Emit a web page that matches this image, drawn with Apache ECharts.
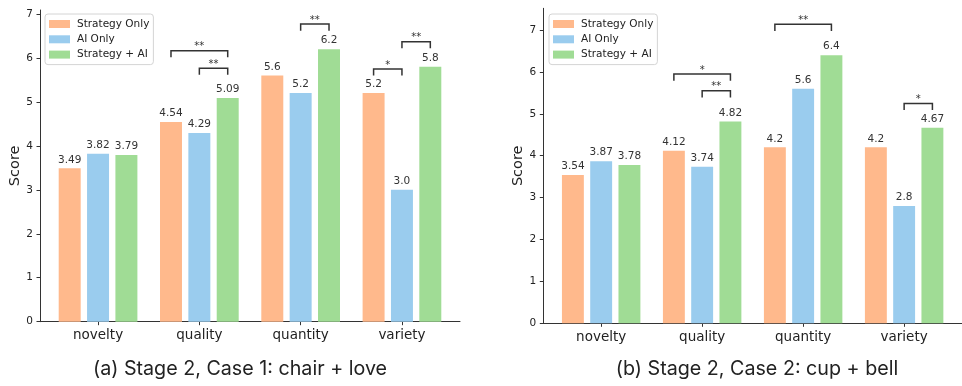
<!DOCTYPE html>
<html>
<head>
<meta charset="utf-8">
<script src="https://cdn.jsdelivr.net/npm/echarts@6/dist/echarts.min.js"></script>
<style>html,body{margin:0;padding:0;background:#fff;}#c{width:962px;height:386px;}</style>
</head>
<body>
<div id="c"></div>
<script>
// ---- data ----
var categories = ['novelty', 'quality', 'quantity', 'variety'];
var seriesNames = ['Strategy Only', 'AI Only', 'Strategy + AI'];
var yTicks = [0, 1, 2, 3, 4, 5, 6, 7];

// Chart (a): Stage 2, Case 1
var aStrategyOnly = [3.49, 4.54, 5.6, 5.2];
var aAIOnly       = [3.82, 4.29, 5.2, 3.0];
var aStrategyAI   = [3.79, 5.09, 6.2, 5.8];
var aLabels = [['3.49','4.54','5.6','5.2'], ['3.82','4.29','5.2','3.0'], ['3.79','5.09','6.2','5.8']];
// significance brackets: [category, fromBar, toBar, bracketTopY, stars]
var aSig = [[1, 0, 2, 6.165, '**'], [1, 1, 2, 5.765, '**'], [2, 1, 2, 6.77, '**'], [3, 0, 1, 5.75, '*'], [3, 1, 2, 6.37, '**']];

// Chart (b): Stage 2, Case 2
var bStrategyOnly = [3.54, 4.12, 4.2, 4.2];
var bAIOnly       = [3.87, 3.74, 5.6, 2.8];
var bStrategyAI   = [3.78, 4.82, 6.4, 4.67];
var bLabels = [['3.54','4.12','4.2','4.2'], ['3.87','3.74','5.6','2.8'], ['3.78','4.82','6.4','4.67']];
var bSig = [[1, 0, 2, 5.95, '*'], [1, 1, 2, 5.55, '**'], [2, 0, 2, 7.14, '**'], [3, 1, 2, 5.25, '*']];

var captions = ['(a) Stage 2, Case 1: chair + love', '(b) Stage 2, Case 2: cup + bell'];

// ---- styles ----
var colors = ['#FFB98C', '#9ACCEE', '#A0DC95'];
var barOffsets = [-0.28, 0, 0.28];
var axisColor = '#333';
var textColor = '#222';
var mono = 'DejaVu Sans';

var chart = echarts.init(document.getElementById('c'), null, {renderer: 'canvas'});

function pairs(arr) { return arr.map(function (v, i) { return [i, v]; }); }

function makeBars(gridIdx, dataArrs, labelArrs) {
  return dataArrs.map(function (arr, s) {
    return {
      type: 'bar', name: seriesNames[s], xAxisIndex: gridIdx, yAxisIndex: gridIdx,
      data: pairs(arr),
      barWidth: '21.7%', barGap: '29%',
      itemStyle: {color: colors[s]},
      label: {
        show: true, position: 'top', distance: 3,
        fontFamily: mono, fontSize: 10.5, color: '#333',
        formatter: function (p) { return labelArrs[s][p.dataIndex]; }
      },
      emphasis: {disabled: true}, silent: true, animation: false
    };
  });
}

function makeSig(gridIdx, sig, legDrop) {
  return {
    type: 'custom', xAxisIndex: gridIdx, yAxisIndex: gridIdx,
    data: sig.map(function (r) { return [r[0], r[1], r[2], r[3]]; }),
    encode: {x: 0, y: 3},
    silent: true, animation: false, z: 5,
    renderItem: function (params, api) {
      var row = sig[params.dataIndex];
      var cat = row[0];
      var p1 = api.coord([cat + barOffsets[row[1]], row[3]]);
      var p2 = api.coord([cat + barOffsets[row[2]], row[3]]);
      var b1 = api.coord([cat + barOffsets[row[1]], row[3] - legDrop]);
      var b2 = api.coord([cat + barOffsets[row[2]], row[3] - legDrop]);
      return {
        type: 'group',
        children: [
          {type: 'polyline', shape: {points: [b1, p1, p2, b2]},
           style: {stroke: '#333', lineWidth: 1.5, fill: null}},
          {type: 'text', x: (p1[0] + p2[0]) / 2, y: p1[1] + 1,
           style: {text: row[4], fontFamily: mono, fontSize: 10, fill: '#333',
                   align: 'center', verticalAlign: 'bottom'}}
        ]
      };
    }
  };
}

function xAxisDef(gridIdx) {
  return {
    type: 'value', gridIndex: gridIdx, min: -0.573, max: 3.573,
    splitLine: {show: false},
    axisLine: {show: true, onZero: false, lineStyle: {color: axisColor, width: 1}},
    axisTick: {show: true, length: 3.5, customValues: [0, 1, 2, 3], lineStyle: {color: axisColor}},
    axisLabel: {
      customValues: [0, 1, 2, 3], margin: 7,
      fontFamily: mono, fontSize: 13.5, color: textColor,
      formatter: function (v) { return categories[Math.round(v)] || ''; }
    }
  };
}

function yAxisDef(gridIdx, max) {
  return {
    type: 'value', gridIndex: gridIdx, min: 0, max: max,
    name: 'Score', nameLocation: 'middle', nameGap: 17,
    nameTextStyle: {fontFamily: mono, fontSize: 14.5, color: textColor},
    splitLine: {show: false},
    axisLine: {show: true, onZero: false, lineStyle: {color: axisColor, width: 1}},
    axisTick: {show: true, length: 3.5, customValues: yTicks, lineStyle: {color: axisColor}},
    axisLabel: {customValues: yTicks, margin: 7, fontFamily: mono, fontSize: 10.5, color: textColor}
  };
}

function legendDef(left) {
  return {
    orient: 'vertical', left: left, top: 14,
    data: seriesNames,
    itemWidth: 21, itemHeight: 8, itemGap: 3.3,
    icon: 'rect',
    padding: [4, 4, 4, 4],
    borderColor: '#d4d4d4', borderWidth: 1, borderRadius: 3,
    backgroundColor: 'rgba(255,255,255,0.8)',
    textStyle: {fontFamily: mono, fontSize: 10.5, lineHeight: 12, color: textColor, padding: [0, 0, 0, 2]},
    selectedMode: false
  };
}

var option = {
  animation: false,
  backgroundColor: '#fff',
  title: [
    {text: captions[0], left: 240, top: 359, textAlign: 'center', padding: 0,
     textStyle: {fontFamily: 'Inter', fontSize: 19.7, fontWeight: 'normal', color: textColor}},
    {text: captions[1], left: 757, top: 359, textAlign: 'center', padding: 0,
     textStyle: {fontFamily: 'Inter', fontSize: 19.7, fontWeight: 'normal', color: textColor}}
  ],
  legend: [legendDef(45), legendDef(549)],
  grid: [
    {left: 40, right: 502, top: 10, bottom: 64.3, containLabel: false},
    {left: 543.3, right: -4, top: 8.3, bottom: 62.7, containLabel: false}
  ],
  xAxis: [xAxisDef(0), xAxisDef(1)],
  yAxis: [yAxisDef(0, 7.09), yAxisDef(1, 7.52)],
  series: []
    .concat(makeBars(0, [aStrategyOnly, aAIOnly, aStrategyAI], aLabels))
    .concat(makeBars(1, [bStrategyOnly, bAIOnly, bStrategyAI], bLabels))
    .concat([makeSig(0, aSig, 0.15), makeSig(1, bSig, 0.16)])
};
chart.setOption(option);
</script>
</body>
</html>
